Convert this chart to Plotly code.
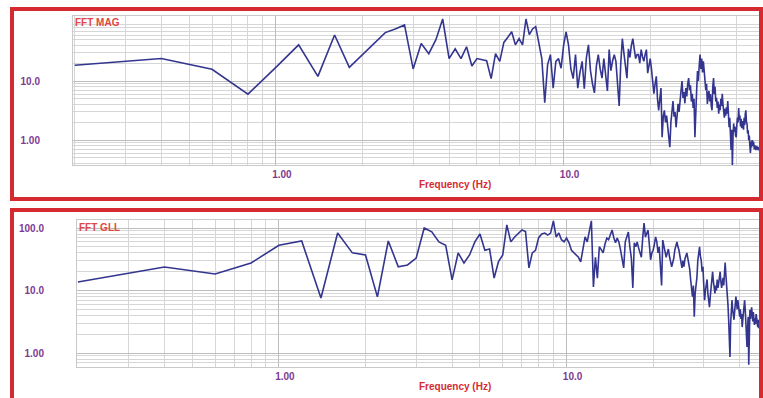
import plotly.graph_objects as go

W, H = 763, 398

# FFT bins: 0.2 Hz resolution from 0.2 to 50 Hz
freq_hz = [round(0.2 * k, 1) for k in range(1, 251)]

fft_mag = [
    18.5, 24, 15.8, 6.0, 17, 41, 12, 60, 17, 28,
    45, 66, 76, 89, 16, 43, 29, 50, 112, 24,
    35, 24, 38, 18, 24, 23, 22, 11, 29, 21.5,
    45, 55, 68, 41, 52, 41, 112, 61, 76, 83,
    46, 24, 4.3, 19, 28, 7.6, 21.5, 24, 16.5, 40,
    68, 41, 16, 11, 28, 7.6, 14, 21.5, 7.4, 25,
    41, 15, 9, 6.3, 18, 28, 16, 11.2, 24, 12,
    6.8, 34, 15, 22, 28, 21.5, 9, 3.8, 20, 52,
    30, 18, 11.2, 35, 25, 40, 52, 35, 24, 28,
    28, 20, 34, 26, 21.5, 28, 34, 13.6, 20, 24,
    16, 9, 6.1, 9, 12, 5, 3.2, 5, 7.6, 1.12,
    2.5, 3.2, 2.0, 2.6, 1.65, 1.1, 0.76, 2.0, 3.2, 4.6,
    2.5, 3.0, 1.65, 2.8, 4.1, 3.0, 5.5, 7.0, 10, 5.2,
    6.5, 4.2, 7.6, 5.5, 9, 11.2, 7, 8.5, 4.5, 6.1,
    3.5, 5, 1.12, 4, 7, 14.7, 10, 18, 28, 16,
    24, 14, 21.5, 15, 11.2, 7, 9, 4.1, 6, 6.8,
    4.5, 6, 3.8, 3.2, 8, 11.2, 6, 8, 4.5, 5.2,
    3.5, 4.5, 2.8, 4, 3.2, 5, 3.8, 6.1, 4, 3,
    2.4, 3.4, 2.6, 3.6, 2.8, 4.6, 2.2, 1.65, 2.4, 1.3,
    0.68, 1.5, 0.38, 1.2, 1.92, 1.4, 1.7, 1.2, 1.12, 1.8,
    2.4, 2.0, 3.5, 2.2, 2.6, 1.7, 2.3, 1.6, 2.1, 1.92,
    1.5, 2.4, 1.8, 2.8, 3.2, 2.0, 1.9, 1.3, 1.47, 1.0,
    1.2, 0.8, 0.61, 0.95, 0.75, 1.0, 0.8, 0.95, 0.89, 0.7,
    0.82, 0.72, 0.68, 0.8, 0.7, 0.78, 0.68, 0.75, 0.73, 0.65,
    0.72, 0.63, 0.7, 0.62, 0.63, 0.68, 0.61, 0.66, 0.63, 0.65,
]

fft_gll = [
    13.7, 23.8, 18.4, 27.5, 53, 62, 7.6, 83, 40, 37,
    7.9, 62, 24, 25.6, 33, 100, 87, 60, 53, 14.8,
    40, 27.5, 37, 60, 80, 44, 46, 15.8, 29, 37,
    112, 60, 72, 83, 93, 88, 23, 40, 44, 70,
    80, 83, 77, 83, 130, 72, 83, 65, 60, 69,
    58, 44, 40, 36, 34, 28.6, 45, 72, 60, 90,
    130, 11.4, 34, 15.8, 50, 45, 40, 55, 69, 65,
    80, 93, 70, 58, 69, 60, 45, 34, 23, 60,
    70, 86, 50, 33, 11, 58, 50, 60, 48, 40,
    34, 70, 120, 72, 80, 93, 55, 31, 40, 44,
    55, 72, 60, 40, 50, 25, 12, 64, 50, 40,
    34, 40, 46, 35, 30, 24, 28, 33, 45, 52,
    60, 50, 44, 35, 30, 23, 30, 24, 32, 38,
    40, 33, 28, 22, 15, 10, 8, 12, 3.8, 9,
    12, 16.4, 30, 40, 50, 35, 30, 20, 24, 12,
    7, 10, 13, 15, 9, 7, 5.4, 8, 12, 15,
    20, 14, 11, 9, 12, 10, 15, 11, 13, 16,
    20, 14, 11, 13, 16, 12, 20, 28, 18, 13,
    10, 6, 3.5, 2, 0.86, 3, 5, 7, 5, 4.2,
    3.4, 4.5, 6, 8, 6.5, 5, 7, 5.5, 4.5, 3.8,
    5, 3.5, 4.2, 2.6, 3.4, 4.5, 5.5, 7, 5, 3,
    2.2, 1.25, 2.5, 3.8, 0.65, 2.2, 4.9, 3.5, 4.5, 5.4,
    4.2, 3.2, 4.5, 3.4, 2.8, 3.6, 2.9, 4.2, 3.8, 3.2,
    2.6, 3.4, 2.5, 3.0, 2.3, 2.8, 3.5, 2.6, 3.2, 2.7,
    3.0, 2.6, 3.2, 2.8, 3.0, 2.5, 3.1, 2.7, 2.9, 3.0,
]

x_tick_vals = [1, 10]
x_tick_text = ["1.00", "10.0"]
mag_tick_vals = [1, 10]
mag_tick_text = ["1.00", "10.0"]
gll_tick_vals = [1, 10, 100]
gll_tick_text = ["1.00", "10.0", "100.0"]

x_minor = [0.2, 0.3, 0.4, 0.5, 0.6, 0.7, 0.8, 0.9,
           2, 3, 4, 5, 6, 7, 8, 9, 20, 30, 40, 50]
y_minor = [0.4, 0.5, 0.6, 0.7, 0.8, 0.9, 2, 3, 4, 5, 6, 7, 8, 9,
           20, 30, 40, 50, 60, 70, 80, 90, 200]

LINE = "#33358f"
RED = "#d52b30"
TICK = "#7e3a92"
GRID = "#d6d6d6"
GRID_MAJOR = "#bdbdbd"


def px_x(x):
    return x / W


def px_y(y):
    return 1 - y / H


tick_font = dict(family="Arial", size=10, color=TICK, weight="bold")


def x_axis(domain, rng, anchor):
    return dict(
        type="log", range=rng, domain=domain, anchor=anchor,
        tickvals=x_tick_vals, ticktext=x_tick_text, tickfont=tick_font,
        ticks="", ticklabelshift=6,
        showgrid=True, gridcolor=GRID_MAJOR, gridwidth=1,
        minor=dict(tickvals=x_minor, showgrid=True, gridcolor=GRID, gridwidth=1, ticks=""),
        showline=True, linecolor="#c9c9c9", linewidth=1, mirror=True, zeroline=False,
    )


def y_axis(domain, rng, anchor, vals, text):
    return dict(
        type="log", range=rng, domain=domain, anchor=anchor,
        tickvals=vals, ticktext=text, tickfont=tick_font,
        ticks="", ticklabelstandoff=30,
        showgrid=True, gridcolor=GRID_MAJOR, gridwidth=1,
        minor=dict(tickvals=y_minor, showgrid=True, gridcolor=GRID, gridwidth=1, ticks=""),
        showline=True, linecolor="#c9c9c9", linewidth=1, mirror=True, zeroline=False,
    )


fig = go.Figure()
fig.add_trace(go.Scatter(x=freq_hz, y=fft_mag, xaxis="x", yaxis="y", mode="lines",
                         line=dict(color=LINE, width=1.6), showlegend=False))
fig.add_trace(go.Scatter(x=freq_hz, y=fft_gll, xaxis="x2", yaxis="y2", mode="lines",
                         line=dict(color=LINE, width=1.6), showlegend=False))

fig.update_layout(
    width=W, height=H,
    margin=dict(l=0, r=0, t=0, b=0),
    paper_bgcolor="white", plot_bgcolor="white",
    xaxis=x_axis([px_x(73), 1.0], [-0.705, 1.693], "y"),
    yaxis=y_axis([px_y(165), px_y(16)], [-0.42, 2.1], "x", mag_tick_vals, mag_tick_text),
    xaxis2=x_axis([px_x(77), 1.0], [-0.702, 1.683], "y2"),
    yaxis2=y_axis([px_y(367), px_y(220)], [-0.224, 2.128], "x2", gll_tick_vals, gll_tick_text),
)

# Panel frames
for top, bottom in [(9, 199), (210, 402)]:
    fig.add_shape(type="rect", xref="paper", yref="paper",
                  x0=px_x(12), x1=px_x(761), y0=px_y(bottom), y1=px_y(top),
                  line=dict(color=RED, width=4), layer="above")

title_font = dict(family="Arial", size=10, color="#e0473f", weight="bold")
label_font = dict(family="Arial", size=10, color=RED, weight="bold")
for name, x, y in [("FFT MAG", 73, 22), ("FFT GLL", 77, 227)]:
    fig.add_annotation(text=name, xref="paper", yref="paper", x=px_x(x), y=px_y(y),
                       xanchor="left", yanchor="middle", showarrow=False, font=title_font)
for y in [185, 386]:
    fig.add_annotation(text="Frequency (Hz)", xref="paper", yref="paper", x=px_x(455), y=px_y(y),
                       xanchor="center", yanchor="middle", showarrow=False, font=label_font)

fig.write_html("out.html")
